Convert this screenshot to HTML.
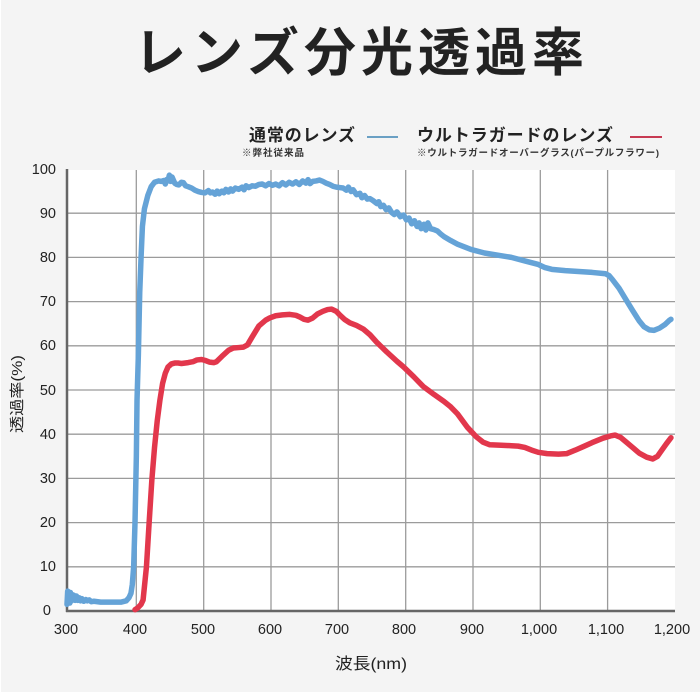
<!DOCTYPE html>
<html><head><meta charset="utf-8"><style>
html,body{margin:0;padding:0;background:#fff;}
svg{display:block;}
</style></head><body>
<svg width="700" height="700" viewBox="0 0 700 700" xmlns="http://www.w3.org/2000/svg">
<rect x="0" y="0" width="700" height="700" fill="#ffffff"/>
<rect x="1" y="0" width="699" height="692" fill="#f4f4f4"/>
<text x="134" y="71" font-family="'Liberation Sans','Noto Sans CJK JP',sans-serif" font-weight="700" font-size="52" fill="#222" textLength="450" lengthAdjust="spacing">レンズ分光透過率</text>
<g font-family="'Liberation Sans','Noto Sans CJK JP',sans-serif" font-weight="700" fill="#222">
<text x="249" y="141" font-size="17" textLength="106" lengthAdjust="spacing">通常のレンズ</text>
<text x="417" y="141" font-size="17" textLength="196" lengthAdjust="spacing">ウルトラガードのレンズ</text>
<text x="242" y="156" font-size="9.5" textLength="62" lengthAdjust="spacing" fill="#333">※弊社従来品</text>
<text x="417" y="156" font-size="9.5" textLength="242" lengthAdjust="spacing" fill="#333">※ウルトラガードオーバーグラス(パープルフラワー)</text>
</g>
<line x1="367" y1="137" x2="398" y2="137" stroke="#6aa0c4" stroke-width="2"/>
<line x1="630" y1="137" x2="662" y2="137" stroke="#c73a52" stroke-width="2"/>
<rect x="67" y="170" width="608" height="441" fill="#ffffff"/>
<g stroke="#9b9b9b" stroke-width="1.3">
<line x1="67" y1="213.2" x2="675" y2="213.2"/>
<line x1="67" y1="257.4" x2="675" y2="257.4"/>
<line x1="67" y1="301.6" x2="675" y2="301.6"/>
<line x1="67" y1="345.8" x2="675" y2="345.8"/>
<line x1="67" y1="390" x2="675" y2="390"/>
<line x1="67" y1="434.2" x2="675" y2="434.2"/>
<line x1="67" y1="478.4" x2="675" y2="478.4"/>
<line x1="67" y1="522.6" x2="675" y2="522.6"/>
<line x1="67" y1="566.8" x2="675" y2="566.8"/>
<line x1="136.3" y1="170" x2="136.3" y2="611"/>
<line x1="203.7" y1="170" x2="203.7" y2="611"/>
<line x1="271" y1="170" x2="271" y2="611"/>
<line x1="338.3" y1="170" x2="338.3" y2="611"/>
<line x1="405.7" y1="170" x2="405.7" y2="611"/>
<line x1="473" y1="170" x2="473" y2="611"/>
<line x1="540.3" y1="170" x2="540.3" y2="611"/>
<line x1="607.6" y1="170" x2="607.6" y2="611"/>
</g>
<line x1="67" y1="169" x2="67" y2="612" stroke="#666" stroke-width="2.5"/>
<line x1="66" y1="611" x2="675" y2="611" stroke="#666" stroke-width="2.5"/>
<g transform="translate(67,611) scale(0.6733,-4.42) translate(-300,0)" fill="none" stroke-linejoin="round" stroke-linecap="round">
<polyline vector-effect="non-scaling-stroke" stroke="#65a3d7" stroke-width="5.5" points="300,1.5 301,4.5 302,2 303,4 304,1.8 305,4.2 306,2.2 307,3.8 308,2.5 310,3.6 312,2.4 314,3.4 316,2.4 318,3 320,2.3 322,2.8 325,2.2 328,2.6 330,2.3 333,2.5 336,2.1 340,2.2 350,2 360,2 370,2 380,2 388,2.3 392,3 395,4 397,6 399,10 401,20 403,35 404,47.7 406,58 408,72 410,80 412,87 415,91 420,94 425,96 430,97 436,97.3 440,97.2 444,97.4 446,96.6 448,97.6 450,97.3 452,98.6 454,97.2 456,98.2 458,97.5 460,96.8 463,96.5 466,96.4 470,97 473,96.9 476,96.2 480,96 485,95.7 490,95.2 495,94.9 500,94.7 505,94.6 510,95.1 513,94.6 516,94.8 520,94.3 523,95 526,94.4 530,95 533,94.6 536,95.4 540,94.8 543,95.5 546,95 550,95.7 555,95.4 560,95.9 563,95.3 566,96.2 570,95.8 575,96.2 580,96.1 585,96.5 590,96.6 595,96.2 600,96.7 605,96.3 610,96.6 615,96.2 620,96.9 625,96.4 630,97 635,96.6 640,97.1 645,96.5 650,97.3 655,96.8 658,97.6 661,96.7 665,97.2 670,97.3 675,97.5 680,97.2 685,96.8 690,96.5 695,96.1 700,95.9 705,95.8 710,95.7 715,95.2 718,95.9 722,94.9 725,95.3 730,94.2 735,94.5 738,93.5 742,94 746,93.2 750,93.3 755,92.8 760,92.2 763,92.6 766,91.5 770,91.8 774,90.8 778,91.2 782,90.2 786,89.7 790,90.3 795,89.2 800,89.6 804,88.5 808,88.9 812,87.6 816,88.3 820,87 823,87.8 826,86.5 830,87.5 833,86.2 836,87.8 840,86.5 845,86.3 850,86 855,85.3 860,84.7 870,83.8 880,83 890,82.4 900,81.8 920,81 940,80.5 960,80 980,79.2 1000,78.4 1010,77.7 1020,77.3 1040,77 1060,76.8 1080,76.6 1100,76.3 1105,75.9 1110,75 1120,73 1130,70.5 1140,68 1150,65.6 1157,64.3 1165,63.6 1172,63.5 1180,64 1188,64.8 1195,65.8 1197,66"/>
<polyline vector-effect="non-scaling-stroke" stroke="#e2374c" stroke-width="5.5" points="401,0.3 405,0.7 410,1.5 413,2.5 416,7 418,10 422,20 426,29.6 430,37 434,43 438,47.7 442,51.5 446,53.8 450,55.2 455,55.9 460,56.1 465,56.1 470,56 480,56.2 487,56.4 493,56.8 500,56.9 505,56.7 512,56.3 518,56.2 522,56.4 530,57.6 540,59 547,59.5 555,59.6 562,59.7 568,60.2 575,62 585,64.5 595,65.8 601,66.3 610,66.8 620,67 631,67.1 640,66.9 646,66.5 652,66 658,65.8 665,66.3 672,67.2 680,67.8 687,68.2 693,68.3 700,67.8 705,67 712,66 720,65.2 730,64.6 740,63.8 750,62.5 760,60.8 775,58.6 790,56.5 800,55.2 815,53 829,50.8 845,49 860,47.4 869,46.3 880,44.6 895,41.5 908,39.4 918,38.2 928,37.6 945,37.5 960,37.4 970,37.3 980,37 990,36.4 1000,35.9 1013,35.6 1030,35.5 1042,35.6 1055,36.4 1067,37.2 1080,38.1 1096,39.1 1107,39.6 1114,39.8 1122,39.3 1130,38.3 1140,37 1150,35.7 1161,34.8 1170,34.4 1177,35 1183,36.3 1190,37.8 1197,39.2"/>
</g>
<g font-family="'Liberation Sans','Noto Sans CJK JP',sans-serif" font-size="14.5" fill="#222" text-anchor="end">
<text x="56" y="174">100</text>
<text x="56" y="218">90</text>
<text x="56" y="262">80</text>
<text x="56" y="306">70</text>
<text x="56" y="350">60</text>
<text x="56" y="395">50</text>
<text x="56" y="439">40</text>
<text x="56" y="483">30</text>
<text x="56" y="527">20</text>
<text x="56" y="571">10</text>
<text x="51" y="615">0</text>
</g>
<g font-family="'Liberation Sans','Noto Sans CJK JP',sans-serif" font-size="14.5" fill="#222" text-anchor="middle">
<text x="66" y="634">300</text>
<text x="135" y="634">400</text>
<text x="203" y="634">500</text>
<text x="270" y="634">600</text>
<text x="337" y="634">700</text>
<text x="404" y="634">800</text>
<text x="472" y="634">900</text>
<text x="539" y="634">1,000</text>
<text x="606" y="634">1,100</text>
<text x="672" y="634">1,200</text>
</g>
<text x="335" y="669" font-family="'Liberation Sans','Noto Sans CJK JP',sans-serif" font-size="16" fill="#222" textLength="72" lengthAdjust="spacingAndGlyphs">波長(nm)</text>
<text transform="translate(22,433) rotate(-90)" font-family="'Liberation Sans','Noto Sans CJK JP',sans-serif" font-size="15" fill="#222" textLength="78" lengthAdjust="spacingAndGlyphs">透過率(%)</text>
</svg>
</body></html>
